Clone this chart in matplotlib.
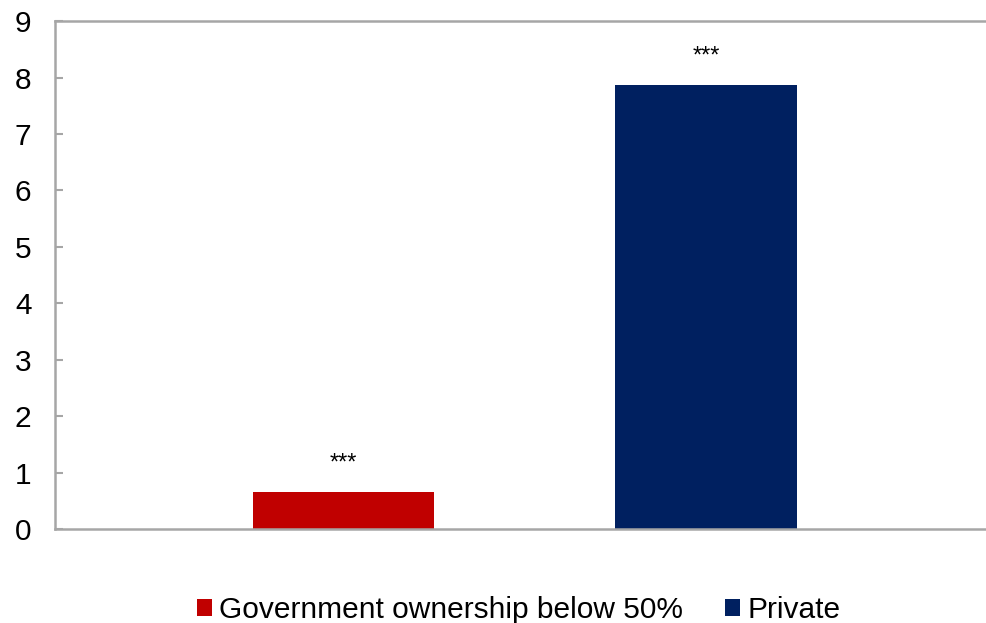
import matplotlib.pyplot as plt
import numpy as np

plt.rcParams['font.family'] = ['Liberation Sans', 'DejaVu Sans']

labels = ['Government ownership below 50%', 'Private']
values = [0.66, 7.87]
stars = ['***', '***']
colors = ['#c00000', '#002060']

fig = plt.figure(figsize=(9.86, 6.23), dpi=100)
ax = fig.add_axes([0.0558, 0.151, 0.9442, 0.815])

x = np.arange(len(values))
bars = ax.bar(x, values, width=0.5, color=colors, label=labels, zorder=2)
for xi, v, s in zip(x, values, stars):
    ax.text(xi, v + 0.5, s, ha='center', va='center', fontsize=17)

ax.set_xlim(-0.795, 1.772)
ax.set_ylim(0, 9)
ax.set_yticks(range(0, 10))
ax.set_xticks([])
ax.tick_params(axis='y', direction='in', length=6, width=1.5, color='#a6a6a6',
               labelsize=21.5, pad=17)
for side in ['left', 'bottom', 'top']:
    ax.spines[side].set_color('#a6a6a6')
    ax.spines[side].set_linewidth(1.8)
ax.spines['right'].set_visible(False)

fig.legend(handles=bars.patches, labels=labels, loc='lower center',
           bbox_to_anchor=(0.526, -0.045), ncol=2, frameon=False, fontsize=21.5,
           handlelength=0.5, handleheight=0.5, handletextpad=0.25,
           columnspacing=1.4)

fig.savefig('out.png', dpi=100)
